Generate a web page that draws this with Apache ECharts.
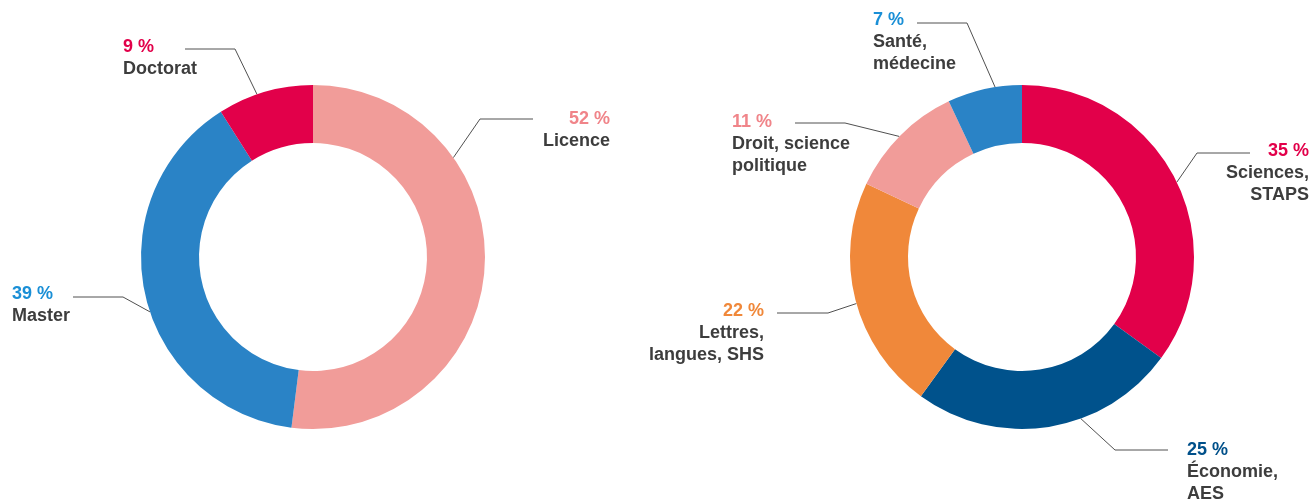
<!DOCTYPE html>
<html>
<head>
<meta charset="utf-8">
<script src="https://cdn.jsdelivr.net/npm/echarts@6/dist/echarts.min.js"></script>
<style>
  html, body { margin: 0; padding: 0; background: #fff; }
  #chart { width: 1314px; height: 504px; }
</style>
</head>
<body>
<div id="chart"></div>
<script>
// Left donut: degree level
const levelNames = ['Licence', 'Master', 'Doctorat'];
const levelValues = [52, 39, 9];
const levelColors = ['#f19c99', '#2a83c6', '#e2004a'];
const levelPctColors = ['#f08489', '#1a8fd6', '#e2004a'];

// Right donut: discipline
const fieldNames = ['Sciences,\nSTAPS', 'Économie,\nAES', 'Lettres,\nlangues, SHS', 'Droit, science\npolitique', 'Santé,\nmédecine'];
const fieldValues = [35, 25, 22, 11, 7];
const fieldColors = ['#e2004a', '#00528c', '#f0883a', '#f19c99', '#2a83c6'];
const fieldPctColors = ['#e2004a', '#00508a', '#f0883a', '#f08489', '#1a8fd6'];

const centers = [[313, 257], [1022, 257]];
const radii = [114, 172];

// where each label sits and where its leader line touches the ring
const labelSpots = [
  [
    { angle: 35.3, bend: [480, 119], end: [533, 119], x: 610, y: 108, align: 'right' },
    { angle: 198.6, bend: [123, 297], end: [73, 297], x: 12, y: 283, align: 'left' },
    { angle: 109, bend: [235, 49], end: [185, 49], x: 123, y: 36, align: 'left' }
  ],
  [
    { angle: 25.8, bend: [1197, 153], end: [1250, 153], x: 1309, y: 140, align: 'right' },
    { angle: -70, bend: [1115, 450], end: [1168, 450], x: 1187, y: 439, align: 'left' },
    { angle: 195.7, bend: [828, 313], end: [777, 313], x: 764, y: 300, align: 'right' },
    { angle: 135.5, bend: [845, 123], end: [795, 123], x: 732, y: 111, align: 'left' },
    { angle: 99, bend: [967, 23], end: [917, 23], x: 873, y: 9, align: 'left' }
  ]
];

const font = { fontFamily: 'Liberation Sans', fontWeight: 'bold', fontSize: 18, lineHeight: 22 };

function makeSeries(idx, names, values, colors, pctColors) {
  const rich = { n: Object.assign({ color: '#3d3d3d' }, font) };
  pctColors.forEach((c, i) => { rich['p' + i] = Object.assign({ color: c }, font); });
  return {
    type: 'pie',
    center: centers[idx],
    radius: radii,
    startAngle: 90,
    clockwise: true,
    avoidLabelOverlap: false,
    silent: true,
    data: names.map((n, i) => ({ name: n, value: values[i], itemStyle: { color: colors[i] } })),
    label: {
      show: true,
      position: 'outside',
      formatter: (p) => {
        const lines = p.name.split('\n').map((l) => '{n|' + l + '}');
        return ['{p' + p.dataIndex + '|' + p.value + ' %}'].concat(lines).join('\n');
      },
      rich: rich
    },
    labelLine: {
      show: true,
      lineStyle: { color: '#505050', width: 1 }
    },
    labelLayout: (params) => {
      const s = labelSpots[idx][params.dataIndex];
      const c = centers[idx];
      const a = s.angle * Math.PI / 180;
      const start = [c[0] + radii[1] * Math.cos(a), c[1] - radii[1] * Math.sin(a)];
      return {
        x: s.x,
        y: s.y,
        align: s.align,
        verticalAlign: 'top',
        labelLinePoints: [start, s.bend, s.end]
      };
    }
  };
}

const chart = echarts.init(document.getElementById('chart'), null, { renderer: 'canvas' });
chart.setOption({
  animation: false,
  backgroundColor: '#ffffff',
  series: [
    makeSeries(0, levelNames, levelValues, levelColors, levelPctColors),
    makeSeries(1, fieldNames, fieldValues, fieldColors, fieldPctColors)
  ]
});
</script>
</body>
</html>
